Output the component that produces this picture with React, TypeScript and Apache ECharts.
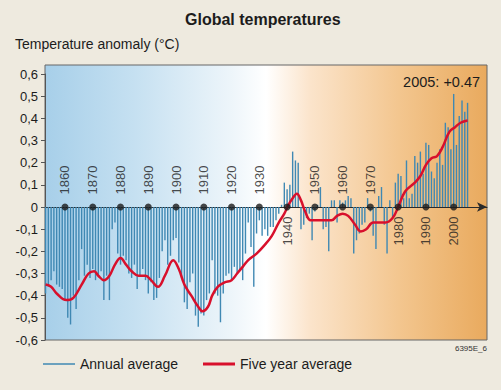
import React, { useEffect, useRef } from "react";
import * as echarts from "echarts";

// ---- Data ----
const firstYear = 1853;
const annualAverage = [
  -0.39, -0.36, -0.33, -0.29, -0.35, -0.36, -0.37, // 1853-1859
  -0.42, -0.5, -0.53, -0.4, -0.46, -0.33, -0.19, -0.31, -0.26, -0.32, // 1860-1869
  -0.28, -0.33, -0.31, -0.29, -0.42, -0.31, -0.42, -0.1, -0.07, -0.21, // 1870-1879
  -0.26, -0.22, -0.24, -0.3, -0.32, -0.26, -0.37, -0.31, -0.28, -0.33, // 1880-1889
  -0.39, -0.34, -0.42, -0.41, -0.32, -0.2, -0.15, -0.26, -0.22, -0.15, // 1890-1899
  -0.14, -0.25, -0.32, -0.43, -0.46, -0.34, -0.3, -0.49, -0.54, -0.48, // 1900-1909
  -0.49, -0.42, -0.39, -0.24, -0.39, -0.4, -0.52, -0.39, -0.31, -0.3, // 1910-1919
  -0.33, -0.27, -0.3, -0.28, -0.33, -0.21, -0.07, -0.18, -0.36, -0.12, // 1920-1929
  -0.06, -0.13, -0.1, -0.13, -0.09, -0.09, -0.06, -0.03, 0.01, 0.11, // 1930-1939
  0.08, 0.1, 0.25, 0.21, 0.2, -0.1, -0.08, -0.05, -0.03, -0.15, // 1940-1949
  -0.02, 0.01, 0.09, -0.1, -0.09, -0.2, 0.03, 0.03, -0.07, 0.03, // 1950-1959
  0.02, 0.03, 0.05, 0.04, -0.21, -0.15, -0.12, -0.08, -0.07, 0.04, // 1960-1969
  -0.02, -0.13, -0.19, 0.05, 0.09, -0.08, -0.21, 0.03, -0.05, 0.11, // 1970-1979
  0.15, 0.14, 0.04, 0.21, 0.04, 0.06, 0.23, 0.2, 0.25, 0.15, // 1980-1989
  0.29, 0.28, 0.16, 0.13, 0.2, 0.26, 0.19, 0.38, 0.36, 0.26, // 1990-1999
  0.51, 0.28, 0.41, 0.48, 0.43, 0.47, // 2000-2005
];

const fiveYearYears = [
  1853, 1855, 1857, 1860.5, 1863, 1866, 1868.5, 1870.5, 1872, 1874, 1876, 1878,
  1880, 1882, 1884, 1886.5, 1889, 1891, 1893.5, 1896, 1899, 1901, 1903, 1905.5,
  1908, 1909.5, 1911.5, 1913, 1915, 1917.5, 1920, 1922, 1924, 1926, 1929, 1932,
  1934.5, 1937, 1939, 1940.5, 1942, 1943.5, 1945, 1946.5, 1948.5, 1951, 1953,
  1956, 1958, 1960, 1962, 1964.5, 1966.5, 1968.5, 1971, 1973, 1975.5, 1978,
  1980, 1982.5, 1986, 1988, 1990, 1992, 1994, 1996, 1998.5, 2000.5, 2002.5, 2005,
];
const fiveYearValues = [
  -0.35, -0.36, -0.39, -0.42, -0.41, -0.35, -0.3, -0.29, -0.31, -0.33, -0.31, -0.26,
  -0.23, -0.26, -0.29, -0.31, -0.31, -0.33, -0.36, -0.31, -0.24, -0.28, -0.35, -0.4,
  -0.45, -0.47, -0.45, -0.4, -0.36, -0.34, -0.33, -0.3, -0.27, -0.24, -0.21, -0.17,
  -0.13, -0.07, -0.03, 0.01, 0.04, 0.06, 0.03, -0.02, -0.06, -0.06, -0.06,
  -0.06, -0.04, -0.03, -0.04, -0.08, -0.11, -0.1, -0.07, -0.07, -0.07, -0.05,
  0.0, 0.07, 0.11, 0.14, 0.19, 0.22, 0.23, 0.27, 0.34, 0.36, 0.38, 0.39,
];

const decadeYears = [1860, 1870, 1880, 1890, 1900, 1910, 1920, 1930, 1940, 1950, 1960, 1970, 1980, 1990, 2000];
const decadesLabelledBelow = [1940, 1980, 1990, 2000];
const highlightYear = 2005;

const FONT = "'Liberation Sans', Arial, sans-serif";
const TEXT = "#1c1c1c";

export default function App() {
  const ref = useRef<HTMLDivElement>(null);

  useEffect(() => {
    document.body.style.margin = "0";
    if (!ref.current) return;
    const chart = echarts.init(ref.current, undefined, { renderer: "svg" });

    const barData = annualAverage.map((v, i) => {
      const year = firstYear + i;
      if (year === highlightYear) {
        return {
          value: [year, v],
          label: {
            show: true,
            position: "top",
            offset: [-26, -8],
            formatter: `${year}: +${v.toFixed(2)}`,
            fontSize: 14.5,
            fontFamily: FONT,
            color: TEXT,
          },
        };
      }
      return [year, v];
    });

    const dotData = decadeYears.map((y) => {
      const below = decadesLabelledBelow.includes(y);
      return {
        value: [y, 0],
        label: {
          show: true,
          formatter: String(y),
          position: below ? "bottom" : "top",
          distance: below ? 6 : 9,
          rotate: 90,
          align: below ? "right" : "left",
          verticalAlign: "middle",
          fontSize: 13,
          fontFamily: FONT,
          color: TEXT,
        },
      };
    });

    const option: any = {
      animation: false,
      backgroundColor: "#eeeadf",
      title: [
        {
          text: "Global temperatures",
          left: 180,
          top: 6,
          textStyle: { fontFamily: FONT, fontSize: 16, fontWeight: "bold", color: TEXT },
        },
        {
          text: "Temperature anomaly (°C)",
          left: 10,
          top: 32,
          textStyle: { fontFamily: FONT, fontSize: 14, fontWeight: "normal", color: TEXT },
        },
      ],
      legend: [
        {
          data: ["Annual average"],
          left: 38,
          top: 352,
          icon: "rect",
          itemWidth: 32,
          itemHeight: 1.5,
          textStyle: { fontFamily: FONT, fontSize: 14, color: TEXT },
        },
        {
          data: ["Five year average"],
          left: 198,
          top: 352,
          icon: "rect",
          itemWidth: 32,
          itemHeight: 3,
          textStyle: { fontFamily: FONT, fontSize: 14, color: TEXT },
        },
      ],
      grid: { left: 45, right: 14, top: 74, bottom: 50 },
      xAxis: {
        type: "value",
        min: 1852.8,
        max: 2012,
        axisLine: {
          show: true,
          onZero: true,
          symbol: ["none", "arrow"],
          symbolSize: [7, 10],
          lineStyle: { color: "#2a2a2a", width: 1 },
        },
        axisTick: { show: false },
        axisLabel: { show: false },
        splitLine: { show: false },
      },
      yAxis: {
        type: "value",
        min: -0.6,
        max: 0.6,
        interval: 0.1,
        axisLine: { show: true, onZero: false, lineStyle: { color: "#555", width: 1 } },
        axisTick: { show: true, length: 4, lineStyle: { color: "#555" } },
        axisLabel: {
          margin: 7,
          fontSize: 13,
          fontFamily: FONT,
          color: TEXT,
          formatter: (v: number) => (Math.abs(v) < 1e-9 ? "0" : v.toFixed(1).replace(".", ",")),
        },
        splitLine: { show: false },
      },
      graphic: [
        {
          type: "rect",
          z: -10,
          shape: { x: 45, y: 65, width: 442, height: 275 },
          style: {
            fill: new echarts.graphic.LinearGradient(0, 0, 1, 0, [
              { offset: 0, color: "#a7cfe9" },
              { offset: 0.2, color: "#c5e0f1" },
              { offset: 0.42, color: "#edf5fa" },
              { offset: 0.5, color: "#ffffff" },
              { offset: 0.6, color: "#fbe4cb" },
              { offset: 0.8, color: "#f3c68f" },
              { offset: 1, color: "#e9aa5e" },
            ]),
          },
        },
        {
          type: "rect",
          z: -9,
          shape: { x: 45, y: 65, width: 442, height: 275 },
          style: { fill: "none", stroke: "#666", lineWidth: 1 },
        },
        {
          type: "text",
          x: 487,
          y: 348,
          style: {
            text: "6395E_6",
            fontSize: 8,
            fontFamily: FONT,
            fill: "#333",
            align: "right",
            verticalAlign: "middle",
          },
        },
      ],
      series: [
        {
          name: "Annual average",
          type: "bar",
          data: barData,
          barWidth: 1.4,
          itemStyle: { color: "#3f88b3" },
          z: 2,
        },
        {
          name: "Five year average",
          type: "line",
          data: fiveYearYears.map((y, i) => [y, fiveYearValues[i]]),
          smooth: 0.4,
          showSymbol: false,
          lineStyle: { color: "#d8102c", width: 2.5 },
          itemStyle: { color: "#d8102c" },
          z: 3,
        },
        {
          name: "decades",
          type: "scatter",
          data: dotData,
          symbolSize: 7,
          itemStyle: { color: "#1a1a1a" },
          z: 4,
        },
      ],
    };

    chart.setOption(option);
    return () => chart.dispose();
  }, []);

  return <div ref={ref} style={{ width: 501, height: 390 }} />;
}
